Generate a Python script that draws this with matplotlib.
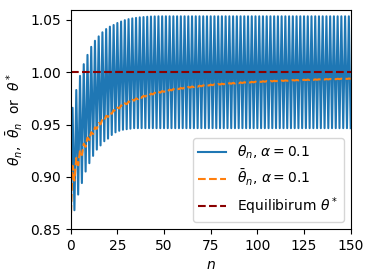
import numpy as np
import matplotlib
matplotlib.use("Agg")
import matplotlib.pyplot as plt

# theta_n at even n = 0, 2, 4, ..., 150 (lower swings)
theta_even = [0.855, 0.868, 0.883, 0.894, 0.905, 0.913, 0.920, 0.926, 0.930, 0.934,
              0.9365, 0.940, 0.9425, 0.944, 0.945, 0.9455, 0.946, 0.9465, 0.9465, 0.9465,
              0.9465, 0.9465, 0.9465, 0.9465, 0.9465, 0.9465, 0.9465, 0.9465, 0.9465, 0.9465,
              0.9465, 0.9465, 0.9465, 0.9465, 0.9465, 0.9465, 0.9465, 0.9465, 0.9465, 0.9465,
              0.9465, 0.9465, 0.9465, 0.9465, 0.9465, 0.9465, 0.9465, 0.9465, 0.9465, 0.9465,
              0.9465, 0.9465, 0.9465, 0.9465, 0.9465, 0.9465, 0.9465, 0.9465, 0.9465, 0.9465,
              0.9465, 0.9465, 0.9465, 0.9465, 0.9465, 0.9465, 0.9465, 0.9465, 0.9465, 0.9465,
              0.9465, 0.9465, 0.9465, 0.9465, 0.9465, 0.9465]
# theta_n at odd n = 1, 3, 5, ..., 149 (upper swings)
theta_odd = [0.966, 0.983, 0.9965, 1.0077, 1.0166, 1.0243, 1.0301, 1.0343, 1.0382, 1.0413,
             1.0436, 1.0452, 1.0471, 1.0485, 1.0498, 1.0508, 1.0515, 1.052, 1.0525, 1.0528,
             1.0531, 1.0533, 1.0534, 1.0535, 1.0535, 1.0535, 1.0535, 1.0535, 1.0535, 1.0535,
             1.0535, 1.0535, 1.0535, 1.0535, 1.0535, 1.0535, 1.0535, 1.0535, 1.0535, 1.0535,
             1.0535, 1.0535, 1.0535, 1.0535, 1.0535, 1.0535, 1.0535, 1.0535, 1.0535, 1.0535,
             1.0535, 1.0535, 1.0535, 1.0535, 1.0535, 1.0535, 1.0535, 1.0535, 1.0535, 1.0535,
             1.0535, 1.0535, 1.0535, 1.0535, 1.0535, 1.0535, 1.0535, 1.0535, 1.0535, 1.0535,
             1.0535, 1.0535, 1.0535, 1.0535, 1.0535]
theta_star = 1.0

n_steps = len(theta_even) + len(theta_odd)
theta = np.empty(n_steps)
theta[0::2] = theta_even
theta[1::2] = theta_odd
n = np.arange(n_steps)
# running average theta-bar_n
theta_bar = np.cumsum(theta) / (n + 1)

fig = plt.figure(figsize=(3.74, 2.8), dpi=100)
ax = fig.add_axes([0.189, 0.182, 0.7487, 0.784])

ax.plot(n, theta, color="C0", lw=1.5, label=r"$\theta_n$, $\alpha=0.1$")
ax.plot(n, theta_bar, color="C1", ls="--", lw=1.5, label=r"$\bar{\theta}_n$, $\alpha=0.1$")
ax.axhline(theta_star, color="darkred", ls="--", lw=1.5, label=r"Equilibirum $\theta^*$")

ax.set_xlim(0, 150)
ax.set_ylim(0.85, 1.06)
ax.set_xticks([0, 25, 50, 75, 100, 125, 150])
ax.set_yticks([0.85, 0.90, 0.95, 1.00, 1.05])
ax.set_xlabel(r"$n$")
ax.set_ylabel(r"$\theta_n$,  $\bar{\theta}_n$  or  $\theta^*$")
ax.legend(loc="lower right")

fig.savefig("out.png", dpi=100)
